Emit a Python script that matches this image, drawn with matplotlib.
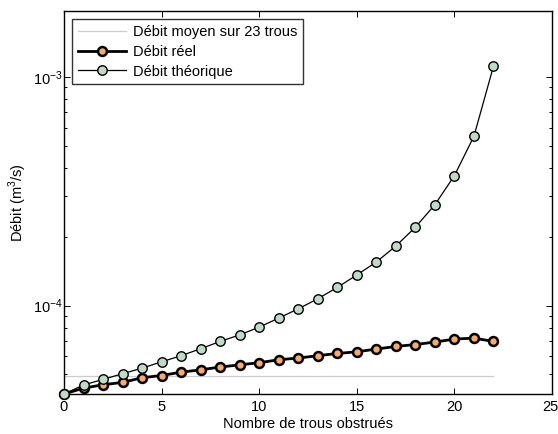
import matplotlib
matplotlib.use("Agg")
import matplotlib.pyplot as plt
import matplotlib.transforms as mtransforms
from matplotlib.ticker import LogLocator, FixedLocator, NullFormatter

plt.rcParams['font.family'] = ['Liberation Sans', 'DejaVu Sans']
plt.rcParams['mathtext.fontset'] = 'custom'
plt.rcParams['mathtext.rm'] = 'Liberation Sans'

# Number of obstructed holes
trous = list(range(23))

# Measured flow (m^3/s)
debit_reel = [4.10e-5, 4.35e-5, 4.50e-5, 4.61e-5, 4.83e-5, 4.94e-5, 5.11e-5,
              5.23e-5, 5.38e-5, 5.50e-5, 5.62e-5, 5.79e-5, 5.89e-5, 6.03e-5,
              6.17e-5, 6.27e-5, 6.45e-5, 6.62e-5, 6.75e-5, 6.92e-5, 7.13e-5,
              7.20e-5, 6.96e-5]

# Theoretical flow (m^3/s)
debit_theorique = [4.10e-5, 4.49e-5, 4.75e-5, 5.03e-5, 5.32e-5, 5.67e-5,
                   6.03e-5, 6.47e-5, 6.96e-5, 7.44e-5, 8.04e-5, 8.81e-5,
                   9.67e-5, 1.07e-4, 1.20e-4, 1.36e-4, 1.55e-4, 1.82e-4,
                   2.20e-4, 2.76e-4, 3.70e-4, 5.50e-4, 1.113e-3]

# Mean flow over the 23 holes
debit_moyen = 4.93e-5

x_ticks = [0, 5, 10, 15, 20, 25]

FS = 10.5

fig = plt.figure(figsize=(5.58, 4.34), dpi=100)
ax = fig.add_axes([64 / 558, 40 / 434, 488 / 558, 383 / 434])

ax.plot(trous, [debit_moyen] * len(trous), color='#cccccc', lw=0.9,
        label='Débit moyen sur 23 trous')
ax.plot(trous, debit_reel, color='black', lw=2.0, marker='o', ms=6.4,
        mfc='#fdaa5e', mec='black', mew=1.8, label='Débit réel', zorder=3,
        clip_on=False)
ax.plot(trous, debit_theorique, color='black', lw=0.9, marker='o', ms=6.8,
        mfc='#bcdcc5', mec='black', mew=1.0, label='Débit théorique', zorder=4,
        clip_on=False)

ax.set_yscale('log')
ax.set_xlim(0, 25)
ax.set_ylim(4.1e-5, 1.944e-3)
ax.xaxis.set_major_locator(FixedLocator(x_ticks))
ax.yaxis.set_major_locator(LogLocator(base=10, numticks=10))
ax.yaxis.set_minor_locator(LogLocator(base=10, subs=range(2, 10), numticks=20))
ax.yaxis.set_minor_formatter(NullFormatter())

ax.tick_params(which='both', direction='in', top=True, right=True,
               labelsize=FS, width=0.7)
ax.tick_params(which='major', length=4)
ax.tick_params(which='minor', length=2.5)
ax.tick_params(axis='x', pad=4.5)
ax.tick_params(axis='y', pad=1)
for s in ax.spines.values():
    s.set_linewidth(1.0)

# keep the last x tick label inside the figure edge
fig.canvas.draw()
last = ax.get_xticklabels()[-1]
last.set_transform(last.get_transform() +
                   mtransforms.ScaledTranslation(-2 / 100, 0, fig.dpi_scale_trans))

ax.set_xlabel('Nombre de trous obstrués', fontsize=FS, labelpad=2)
ax.set_ylabel('Débit (m$^3$/s)', fontsize=FS, labelpad=3)

leg = ax.legend(loc='upper left', fontsize=FS, frameon=True, fancybox=False,
                borderaxespad=0.55, handlelength=3.3, handletextpad=0.5,
                labelspacing=0.4, borderpad=0.4)
leg.get_frame().set_edgecolor('black')
leg.get_frame().set_linewidth(1.0)

fig.savefig('out.png', dpi=100)
